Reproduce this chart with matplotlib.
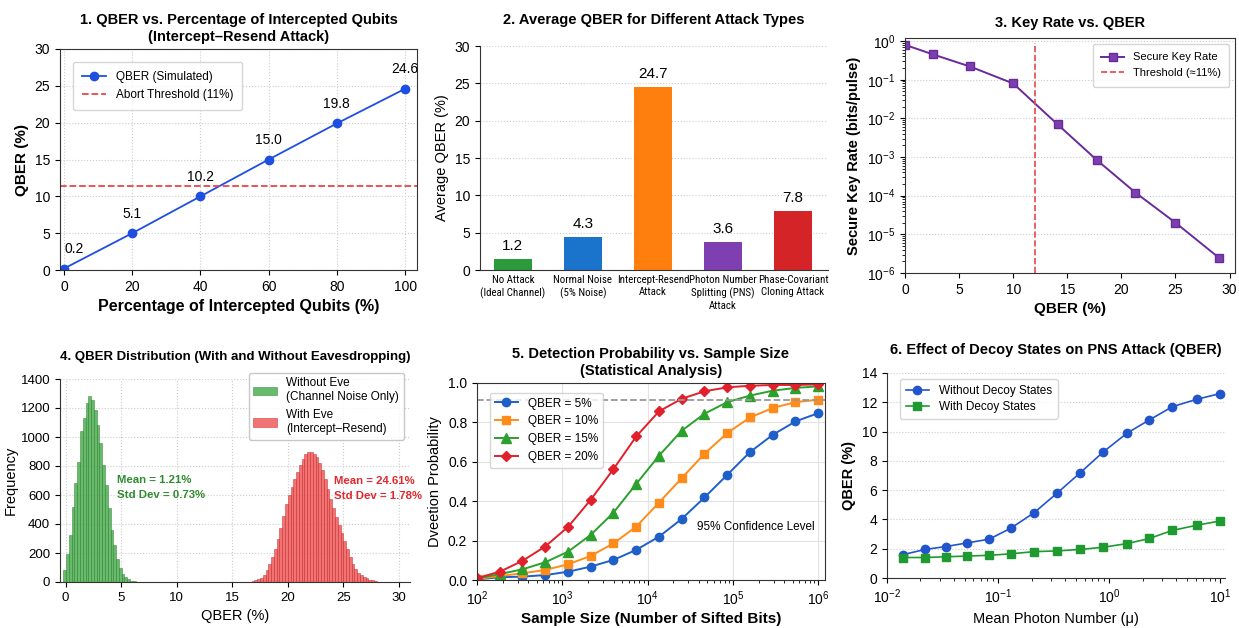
import numpy as np
import matplotlib
matplotlib.use("Agg")
import matplotlib.pyplot as plt
from matplotlib import font_manager

plt.rcParams['font.family'] = ['Liberation Sans', 'DejaVu Sans']
plt.rcParams['axes.edgecolor'] = '#333333'
plt.rcParams['xtick.labelsize'] = 10
plt.rcParams['ytick.labelsize'] = 10

# ---------------- data ----------------
# 1. intercept-resend
pct_intercepted = [0, 20, 40, 60, 80, 100]
qber_sim = [0.2, 5.0, 10.0, 15.0, 19.9, 24.6]
qber_sim_labels = ['0.2', '5.1', '10.2', '15.0', '19.8', '24.6']
abort_threshold = 11.4

# 2. attack types
attack_names = ['No Attack\n(Ideal Channel)', 'Normal Noise\n(5% Noise)',
                'Intercept-Resend\nAttack', 'Photon Number\nSplitting (PNS)\nAttack',
                'Phase-Covariant\nCloning Attack']
attack_qber = [1.5, 4.4, 24.5, 3.8, 7.9]
attack_labels = ['1.2', '4.3', '24.7', '3.6', '7.8']
attack_colors = ['#2a9a3a', '#1a74cc', '#ff7f0e', '#7e3fb0', '#d42428']

# 3. key rate
kr_qber = [0, 2.6, 6.0, 10.0, 14.1, 17.7, 21.3, 25.0, 29.0]
kr_rate = [0.8, 0.45, 0.22, 0.08, 0.007, 0.00085, 0.00012, 2.0e-5, 2.5e-6]
kr_threshold = 12.0

# 4. histograms (bin width 0.25)
noeve_start = -0.2
noeve_counts = [81, 196, 323, 519, 680, 830, 1038, 1130, 1234, 1285, 1257, 1188, 1084,
                957, 807, 669, 507, 357, 254, 161, 97, 58, 35, 18, 9, 5]
eve_start = 16.5
eve_counts = [3, 6, 11, 18, 30, 50, 82, 125, 175, 230, 300, 375, 455, 535, 600, 655,
              710, 760, 810, 850, 880, 898, 900, 885, 860, 820, 770, 710, 640, 570,
              510, 450, 395, 335, 280, 225, 170, 122, 90, 65, 48, 35, 25, 17, 12, 7]
bin_w = 0.25

# 5. detection probability
sample_sizes = [100, 185, 340, 630, 1170, 2150, 3980, 7360, 13600, 25100, 46400,
                85800, 158000, 293000, 541000, 1000000]
det_q5 = [0.003, 0.014, 0.017, 0.025, 0.042, 0.068, 0.102, 0.153, 0.22, 0.31, 0.419,
          0.534, 0.649, 0.737, 0.805, 0.847]
det_q10 = [0.005, 0.02, 0.034, 0.051, 0.08, 0.122, 0.186, 0.271, 0.393, 0.517, 0.641,
           0.746, 0.825, 0.873, 0.903, 0.915]
det_q15 = [0.008, 0.03, 0.054, 0.09, 0.144, 0.229, 0.342, 0.488, 0.631, 0.758, 0.844,
           0.903, 0.936, 0.961, 0.975, 0.983]
det_q20 = [0.01, 0.042, 0.097, 0.17, 0.27, 0.407, 0.563, 0.729, 0.856, 0.92, 0.958,
           0.978, 0.986, 0.99, 0.99, 0.993]
conf_level = 0.915

# 6. decoy states
mu_vals = [0.014, 0.022, 0.034, 0.053, 0.083, 0.13, 0.21, 0.34, 0.55, 0.88, 1.45,
           2.3, 3.7, 6.1, 10.0]
qber_no_decoy = [1.6, 1.95, 2.15, 2.4, 2.65, 3.4, 4.45, 5.8, 7.2, 8.6, 9.9, 10.8,
                 11.7, 12.2, 12.6]
qber_decoy = [1.4, 1.4, 1.45, 1.5, 1.55, 1.65, 1.8, 1.85, 1.95, 2.1, 2.35, 2.7,
              3.25, 3.6, 3.9]

# condensed font for the bar category labels if one is present
installed = {f.name for f in font_manager.fontManager.ttflist}
cat_font = dict(fontsize=6.9)
for fam in ['Liberation Sans Narrow', 'Roboto Condensed', 'Open Sans Condensed',
            'DejaVu Sans Condensed']:
    if fam in installed:
        cat_font = dict(family=fam, fontsize=7.8)
        break

# ---------------- figure ----------------
W, H = 1239, 628
fig = plt.figure(figsize=(W / 100, H / 100), dpi=100)

def add_ax(l, t, r, b):
    return fig.add_axes([l / W, 1 - b / H, (r - l) / W, (b - t) / H])

ax1 = add_ax(60, 49, 417, 270)
ax2 = add_ax(480, 46, 828, 270)
ax3 = add_ax(905, 38, 1235, 273)
ax4 = add_ax(60, 379, 410, 582)
ax5 = add_ax(477, 383, 825, 580)
ax6 = add_ax(887, 373, 1225, 578)

title_kw = dict(fontsize=10.5, fontweight='bold')
grid_kw = dict(color='#cccccc', ls=':', lw=0.8)
leg_kw = dict(fontsize=8.5, edgecolor='#cccccc', borderpad=0.8)

# --- 1 ---
ax1.plot(pct_intercepted, qber_sim, 'o-', color='#1f4fe0', lw=1.3, ms=6,
         label='QBER (Simulated)')
ax1.axhline(abort_threshold, color='#e8474a', ls='--', lw=1.3,
            label='Abort Threshold (11%)')
for i, (x, y, s) in enumerate(zip(pct_intercepted, qber_sim, qber_sim_labels)):
    ax1.annotate(s, (x, y), textcoords='offset points', xytext=(0, 9),
                 ha='left' if i == 0 else 'center', va='bottom', fontsize=10)
ax1.set_xlim(-1.2, 103.5)
ax1.set_ylim(0, 30)
ax1.set_xticks([0, 20, 40, 60, 80, 100])
ax1.grid(**grid_kw)
ax1.set_title('1. QBER vs. Percentage of Intercepted Qubits\n(Intercept\u2013Resend Attack)',
              pad=6, linespacing=1.2, **title_kw)
ax1.set_xlabel('Percentage of Intercepted Qubits (%)', fontsize=11.5, fontweight='bold')
ax1.set_ylabel('QBER (%)', fontsize=11, fontweight='bold')
ax1.legend(loc='upper left', bbox_to_anchor=(0.02, 0.97), **leg_kw)

# --- 2 ---
xpos = np.arange(len(attack_names))
ax2.bar(xpos, attack_qber, width=0.55, color=attack_colors)
for x, y, s in zip(xpos, attack_qber, attack_labels):
    ax2.text(x, y + 0.8, s, ha='center', va='bottom', fontsize=11)
ax2.set_xticks(xpos)
ax2.set_xticklabels(attack_names, linespacing=1.3, **cat_font)
ax2.tick_params(axis='x', length=0)
ax2.set_xlim(-0.47, 4.5)
ax2.set_ylim(0, 30)
ax2.yaxis.grid(True, **grid_kw)
ax2.set_axisbelow(True)
for sp in ['top', 'right']:
    ax2.spines[sp].set_visible(False)
ax2.set_title('2. Average QBER for Different Attack Types', pad=16, **title_kw)
ax2.set_ylabel('Average QBER (%)', fontsize=10.5)

# --- 3 ---
ax3.semilogy(kr_qber, kr_rate, 's-', color='#6a2a9a', lw=1.4, ms=6,
             markerfacecolor='#7b3fb0', label='Secure Key Rate')
ax3.axvline(kr_threshold, color='#e8474a', ls='--', lw=1.2, ymax=0.98,
            label='Threshold (\u224811%)')
ax3.set_xlim(0, 30.5)
ax3.set_ylim(1e-6, 1.2)
ax3.grid(axis='y', **grid_kw)
ax3.set_title('3. Key Rate vs. QBER', pad=8, **title_kw)
ax3.set_xlabel('QBER (%)', fontsize=11, fontweight='bold')
ax3.set_ylabel('Secure Key Rate (bits/pulse)', fontsize=10.5, fontweight='bold')
ax3.legend(loc='upper right', fontsize=8, edgecolor='#cccccc', borderpad=0.8)

# --- 4 ---
noeve_edges = noeve_start + bin_w * np.arange(len(noeve_counts))
eve_edges = eve_start + bin_w * np.arange(len(eve_counts))
ax4.bar(noeve_edges, noeve_counts, width=bin_w, align='edge', color='#4caf50',
        alpha=0.85, edgecolor='#2e7d32', lw=0.4,
        label='Without Eve\n(Channel Noise Only)')
ax4.bar(eve_edges, eve_counts, width=bin_w, align='edge', color='#f05a5a',
        alpha=0.85, edgecolor='#c62828', lw=0.4,
        label='With Eve\n(Intercept\u2013Resend)')
ax4.text(4.6, 650, 'Mean = 1.21%\nStd Dev = 0.73%', color='#2e8b2e',
         fontsize=8.2, fontweight='bold', va='center', linespacing=1.6)
ax4.text(24.2, 645, 'Mean = 24.61%\nStd Dev = 1.78%', color='#e0282e',
         fontsize=8.2, fontweight='bold', va='center', linespacing=1.6)
ax4.set_xlim(-0.5, 31)
ax4.set_ylim(0, 1400)
ax4.set_yticks(range(0, 1401, 200))
ax4.tick_params(labelsize=9.5)
ax4.grid(**grid_kw)
ax4.set_axisbelow(True)
for sp in ['top', 'right']:
    ax4.spines[sp].set_visible(False)
ax4.set_title('4. QBER Distribution (With and Without Eavesdropping)', pad=14,
              fontsize=9.5, fontweight='bold')
ax4.set_xlabel('QBER (%)', fontsize=10.5)
ax4.set_ylabel('Frequency', fontsize=10.5, labelpad=2)
ax4.legend(loc='upper right', fontsize=8.5, edgecolor='#bbbbbb',
           bbox_to_anchor=(1.0, 1.06))

# --- 5 ---
ax5.semilogx(sample_sizes, det_q5, 'o-', color='#1f5fc8', ms=6, lw=1.4,
             label='QBER = 5%')
ax5.semilogx(sample_sizes, det_q10, 's-', color='#ff8c1a', ms=6, lw=1.4,
             label='QBER = 10%')
ax5.semilogx(sample_sizes, det_q15, '^-', color='#2ca02c', ms=6.5, lw=1.4,
             label='QBER = 15%')
ax5.semilogx(sample_sizes, det_q20, 'D-', color='#e0202a', ms=5.5, lw=1.4,
             label='QBER = 20%')
ax5.axhline(conf_level, color='#999999', ls='--', lw=1.3)
ax5.text(0.97, 0.27, '95% Confidence Level', transform=ax5.get_yaxis_transform(),
         ha='right', va='center', fontsize=8.5)
ax5.set_xlim(100, 1.2e6)
ax5.set_ylim(0, 1.0)
ax5.grid(color='#e3e3e3', lw=0.8)
ax5.set_title('5. Detection Probability vs. Sample Size\n(Statistical Analysis)',
              pad=6, linespacing=1.2, **title_kw)
ax5.set_xlabel('Sample Size (Number of Sifted Bits)', fontsize=11,
               fontweight='bold', labelpad=3)
ax5.set_ylabel('Dveetion Probability', fontsize=10.5)
ax5.legend(loc='upper left', bbox_to_anchor=(0.02, 0.98), fontsize=8.5,
           edgecolor='#cccccc')

# --- 6 ---
ax6.semilogx(mu_vals, qber_no_decoy, 'o-', color='#2255cc', ms=6, lw=1.2,
             label='Without Decoy States')
ax6.semilogx(mu_vals, qber_decoy, 's-', color='#1f9a30', ms=6, lw=1.2,
             label='With Decoy States')
ax6.set_xlim(0.01, 11)
ax6.set_ylim(0, 14)
ax6.set_yticks(range(0, 15, 2))
ax6.yaxis.grid(True, **grid_kw)
for sp in ['top', 'right']:
    ax6.spines[sp].set_visible(False)
ax6.set_title('6. Effect of Decoy States on PNS Attack (QBER)', pad=14, **title_kw)
ax6.set_xlabel('Mean Photon Number (\u03bc)', fontsize=10.5)
ax6.set_ylabel('QBER (%)', fontsize=10.5, fontweight='bold')
ax6.legend(loc='upper left', bbox_to_anchor=(0.02, 1.0), fontsize=8.5,
           edgecolor='#cccccc', borderpad=0.5, labelspacing=0.35)

fig.savefig('out.png', dpi=100, facecolor='white')
